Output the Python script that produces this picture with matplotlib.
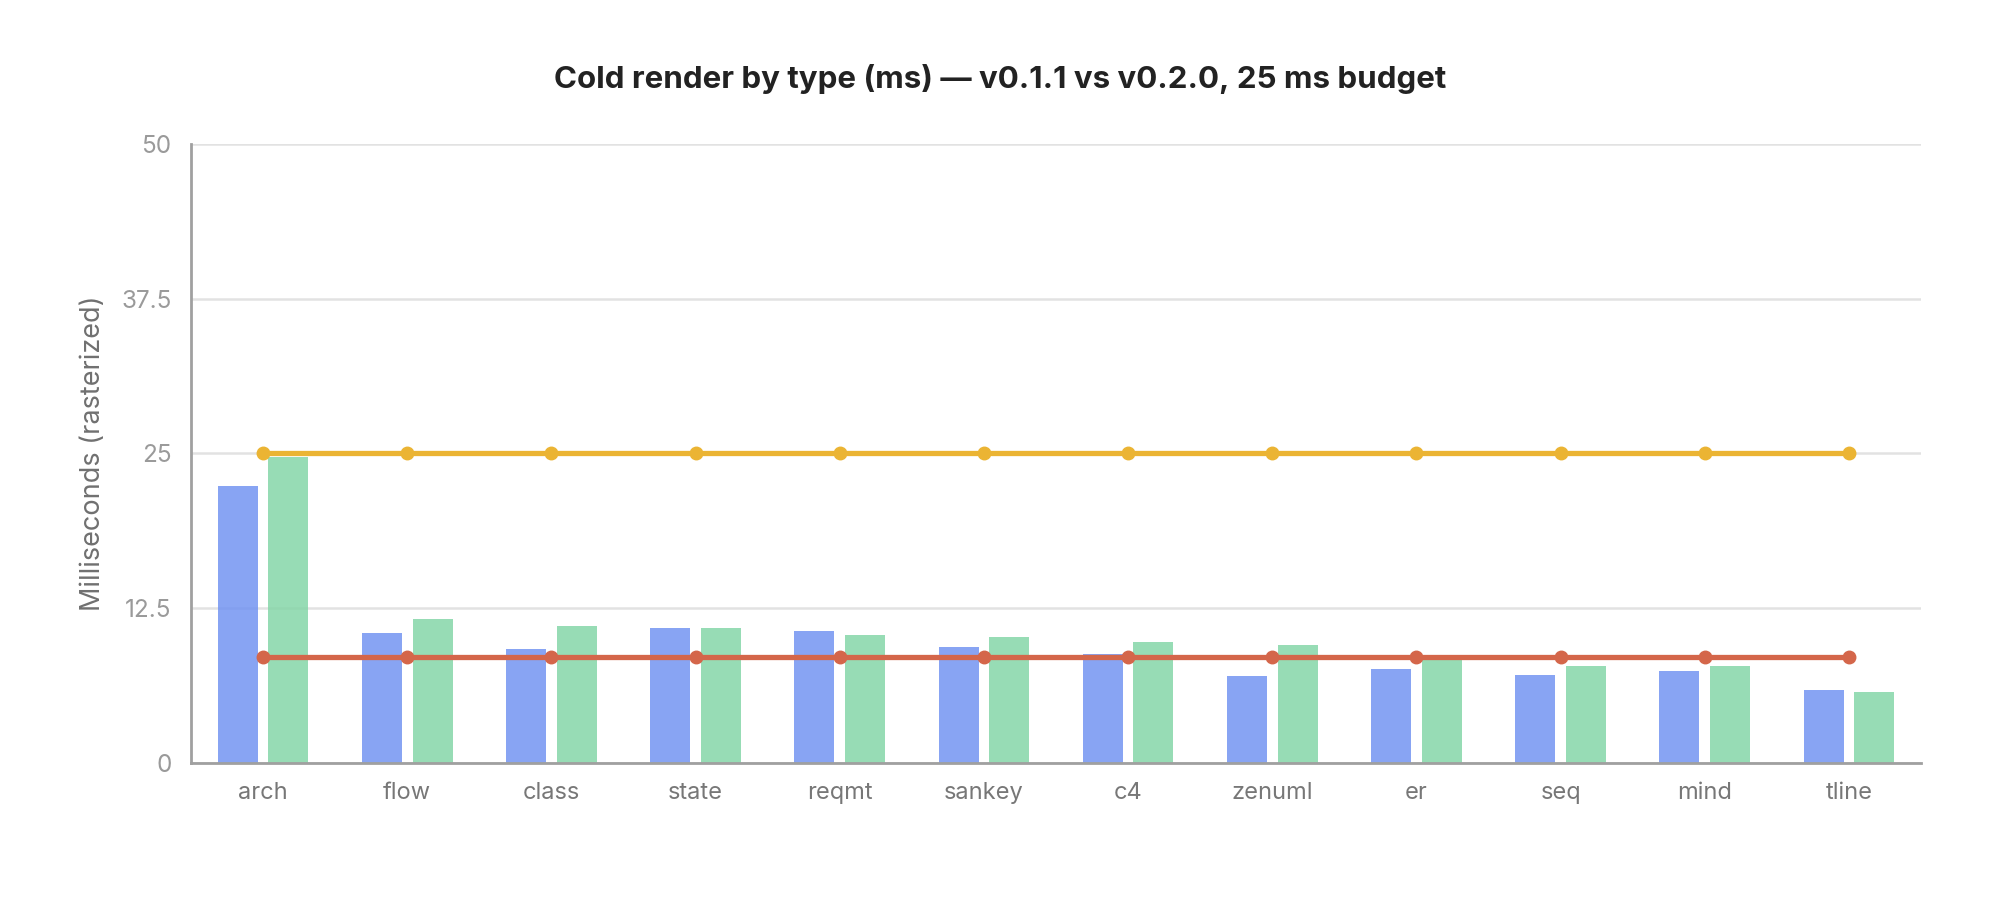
import matplotlib

matplotlib.use("Agg")

import matplotlib.pyplot as plt
import numpy as np

plt.rcParams["font.family"] = ["Inter", "DejaVu Sans"]

categories = ["arch", "flow", "class", "state", "reqmt", "sankey", "c4",
              "zenuml", "er", "seq", "mind", "tline"]
v011_ms = [22.4, 10.5, 9.2, 10.9, 10.7, 9.4, 8.8, 7.0, 7.6, 7.1, 7.4, 5.9]
v020_ms = [24.7, 11.6, 11.1, 10.9, 10.3, 10.2, 9.8, 9.5, 8.3, 7.8, 7.8, 5.7]
budget_ms = [25.0] * len(categories)
baseline_ms = [8.6] * len(categories)
y_ticks = [0, 12.5, 25, 37.5, 50]
y_tick_labels = ["0", "12.5", "25", "37.5", "50"]

x = np.arange(len(categories))

fig = plt.figure(figsize=(20, 8.97), dpi=100)
ax = fig.add_axes([0.0955, 0.1494, 0.865, 0.6901])

ax.set_axisbelow(True)
ax.grid(axis="y", color="#e2e2e2", linewidth=1.8)

bar_w = 0.278
ax.bar(x - 0.176, v011_ms, width=bar_w, color="#7394f2", alpha=0.85, zorder=2)
ax.bar(x + 0.176, v020_ms, width=bar_w, color="#85d6a8", alpha=0.85, zorder=2)

ax.plot(x, budget_ms, color="#ebb433", linewidth=3.8, marker="o",
        markersize=9, zorder=4)
ax.plot(x, baseline_ms, color="#d4664a", linewidth=3.8, marker="o",
        markersize=9, zorder=4)

ax.set_xlim(-0.5, len(categories) - 0.5)
ax.set_ylim(0, 50)
ax.set_yticks(y_ticks)
ax.set_yticklabels(y_tick_labels)
ax.set_xticks(x)
ax.set_xticklabels(categories)
ax.tick_params(axis="y", length=0, pad=14, labelsize=17.5, labelcolor="#9a9a9a")
ax.tick_params(axis="x", length=0, pad=14, labelsize=17, labelcolor="#777777")

for side in ("top", "right"):
    ax.spines[side].set_visible(False)
for side in ("left", "bottom"):
    ax.spines[side].set_color("#a0a0a0")
    ax.spines[side].set_linewidth(2)

ax.set_ylabel("Milliseconds (rasterized)", fontsize=19.5, color="#707070", labelpad=11)
fig.text(0.5, 0.912, "Cold render by type (ms) \u2014 v0.1.1 vs v0.2.0, 25 ms budget",
         ha="center", va="center", fontsize=22.5, fontweight="bold", color="#222222")

fig.savefig("out.png", dpi=100)
plt.close(fig)
